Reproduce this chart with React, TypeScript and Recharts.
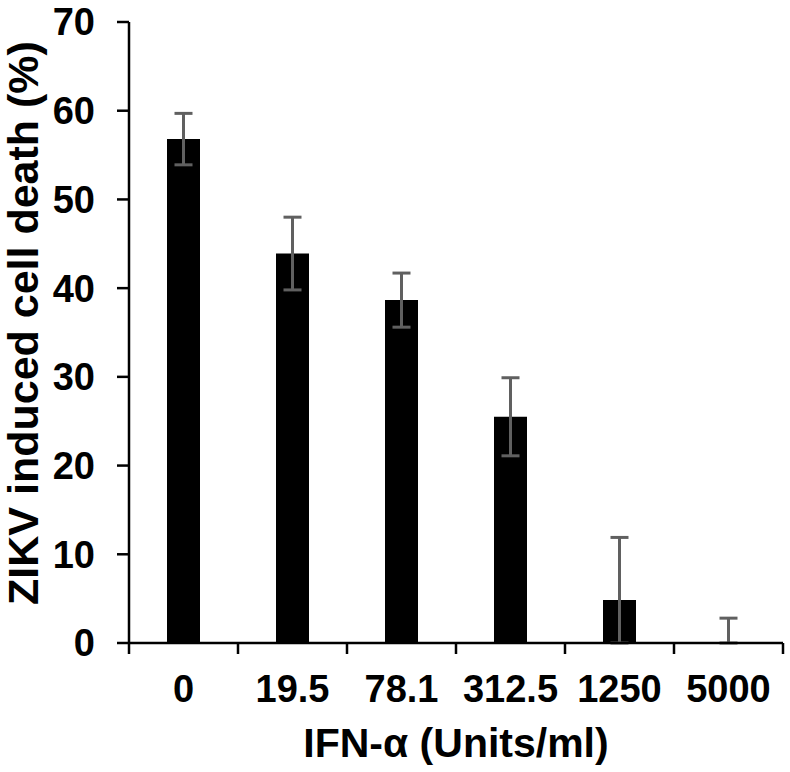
import { BarChart, Bar, XAxis, YAxis, ErrorBar, Label } from "recharts";

// IFN-alpha dose (Units/ml) vs ZIKV induced cell death (%)
const doses = ["0", "19.5", "78.1", "312.5", "1250", "5000"];
// 5000: no visible bar (~0); a hair above zero so Recharts still draws its error bar
const cellDeath = [56.8, 43.9, 38.65, 25.5, 4.85, 0.001];
const errLow = [2.9, 4.1, 3.05, 4.4, 4.85, 0.001];
const errHigh = [2.9, 4.1, 3.05, 4.4, 7.05, 2.8];
const yTicks = [0, 10, 20, 30, 40, 50, 60, 70];

const data = doses.map((d, i) => ({
  dose: d,
  value: cellDeath[i],
  err: [errLow[i], errHigh[i]],
}));

const FONT = '"Liberation Sans", Arial, sans-serif';
const PLOT_LEFT = 129;
const PLOT_RIGHT = 783;
const PLOT_TOP = 22;
const PLOT_BOTTOM = 643;
const BAND = (PLOT_RIGHT - PLOT_LEFT) / doses.length;

function DoseTick(props: any) {
  const { x, y, payload, index } = props;
  const left = x - BAND / 2;
  return (
    <g>
      <line x1={left} y1={y} x2={left} y2={y + 11} stroke="#000" strokeWidth={2.5} />
      {index === doses.length - 1 && (
        <line x1={left + BAND} y1={y} x2={left + BAND} y2={y + 11} stroke="#000" strokeWidth={2.5} />
      )}
      <text
        x={x}
        y={y + 59}
        textAnchor="middle"
        fontFamily={FONT}
        fontWeight="bold"
        fontSize={38}
        fill="#000"
      >
        {payload.value}
      </text>
    </g>
  );
}

export default function App() {
  return (
    <div style={{ position: "absolute", left: 0, top: 0, background: "#fff" }}>
      <BarChart
        width={790}
        height={772}
        data={data}
        margin={{ top: PLOT_TOP, right: 790 - PLOT_RIGHT, bottom: 0, left: 0 }}
        barCategoryGap={0}
      >
        <XAxis
          dataKey="dose"
          height={772 - PLOT_BOTTOM}
          axisLine={{ stroke: "#000", strokeWidth: 2.5 }}
          tickLine={false}
          tickSize={0}
          tickMargin={0}
          tick={<DoseTick />}
          interval={0}
        >
          <Label
            content={() => (
              <text
                x={(PLOT_LEFT + PLOT_RIGHT) / 2}
                y={757}
                textAnchor="middle"
                fontFamily={FONT}
                fontWeight="bold"
                fontSize={41}
                fill="#000"
              >
                IFN-α (Units/ml)
              </text>
            )}
          />
        </XAxis>
        <YAxis
          width={PLOT_LEFT}
          domain={[0, 70]}
          ticks={yTicks}
          interval={0}
          axisLine={{ stroke: "#000", strokeWidth: 2.5 }}
          tickLine={{ stroke: "#000", strokeWidth: 2.5 }}
          tickSize={12}
          tickMargin={22}
          tick={{ fontFamily: FONT, fontWeight: "bold", fontSize: 38, fill: "#000" }}
        >
          <Label
            content={() => (
              <text
                x={38}
                y={323}
                transform="rotate(-90, 38, 323)"
                textAnchor="middle"
                fontFamily={FONT}
                fontWeight="bold"
                fontSize={43}
                fill="#000"
              >
                ZIKV induced cell death (%)
              </text>
            )}
          />
        </YAxis>
        <Bar dataKey="value" fill="#000" barSize={33} isAnimationActive={false}>
          <ErrorBar dataKey="err" width={9} stroke="#606060" strokeWidth={3} isAnimationActive={false} />
        </Bar>
      </BarChart>
    </div>
  );
}
